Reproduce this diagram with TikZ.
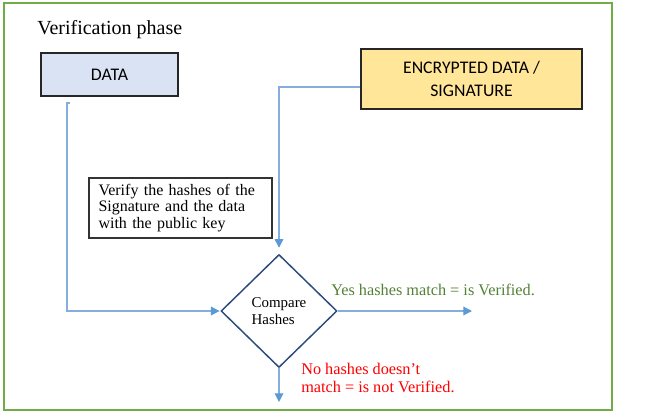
\documentclass[tikz,border=0pt]{standalone}
\usepackage{fontspec}
\setmainfont{Liberation Serif}
\newfontfamily\calibri{Carlito}
\usetikzlibrary{shapes.geometric,arrows.meta,positioning}

\definecolor{framegreen}{HTML}{70AD47}
\definecolor{datablue}{HTML}{DAE3F3}
\definecolor{encyellow}{HTML}{FFE699}
\definecolor{linkblue}{HTML}{86AEDC}
\definecolor{tipblue}{HTML}{5B9BD5}
\definecolor{decnavy}{HTML}{2B4A7E}
\definecolor{yesgreen}{HTML}{538135}

\tikzset{
  inbox/.style={draw=black!85, line width=1pt, inner sep=0pt, font=\calibri\fontsize{13.3}{17}\selectfont, align=center},
  notebox/.style={draw=black!80, line width=0.8pt, inner sep=0pt, align=left},
  decide/.style={diamond, draw=decnavy, line width=1.1pt, inner sep=0pt, minimum width=87pt, minimum height=84.75pt, align=left, font=\fontsize{11.2}{12.5}\selectfont},
  conn/.style={draw=linkblue, line width=0.9pt, -{Triangle[length=6.5pt,width=6.5pt,color=tipblue]}},
  outtext/.style={inner sep=0pt, anchor=base west, align=left, font=\fontsize{12.2}{13.5}\selectfont}
}

\begin{document}
\begin{tikzpicture}[x=0.75pt,y=-0.75pt]
            \useasboundingbox (0,0) rectangle (665,418);
            \draw[framegreen, line width=1.1pt] (4,3) rectangle (612,410);

            \node[inner sep=0pt, anchor=base west, font=\fontsize{15}{16}\selectfont] (title) at (37,34) {Verification phase};
            \node[inbox, fill=datablue, minimum width=102.75pt, minimum height=32.25pt] (data) at (109.5,74.5) {DATA};
            \node[inbox, fill=encyellow, minimum width=165.75pt, minimum height=45pt] (enc) at (471.5,79) {ENCRYPTED DATA /\\SIGNATURE};
            \node[notebox, minimum width=137.25pt, minimum height=45pt, text width=123pt, font=\fontsize{12}{12.5}\selectfont] (verify) at (180.5,208)
                {Verify the hashes of the\\Signature and the data\\with the public key};
            \node[decide] (cmp) at (279,311) {Compare\\Hashes};

            \coordinate (dtick) at (70,103);
            \coordinate (dtop) at (67,103);
            \coordinate (yesend) at (472,311);
            \coordinate (noend) at (279,402);

            \draw[conn, shorten >=0.5pt] (dtick) -- (dtop) |- (cmp.west);
            \draw[conn, shorten >=4.5pt] ([yshift=-6pt]enc.west) -| (cmp.north);
            \draw[conn] (cmp.east) -- (yesend);
            \draw[conn] (cmp.south) -- (noend);

            \node[outtext, text=yesgreen] (yes) at (331,295) {Yes hashes match = is Verified.};
            \node[outtext, text=red] (no) at (301,392) {No hashes doesn't\\match = is not Verified.};
\end{tikzpicture}
\end{document}
